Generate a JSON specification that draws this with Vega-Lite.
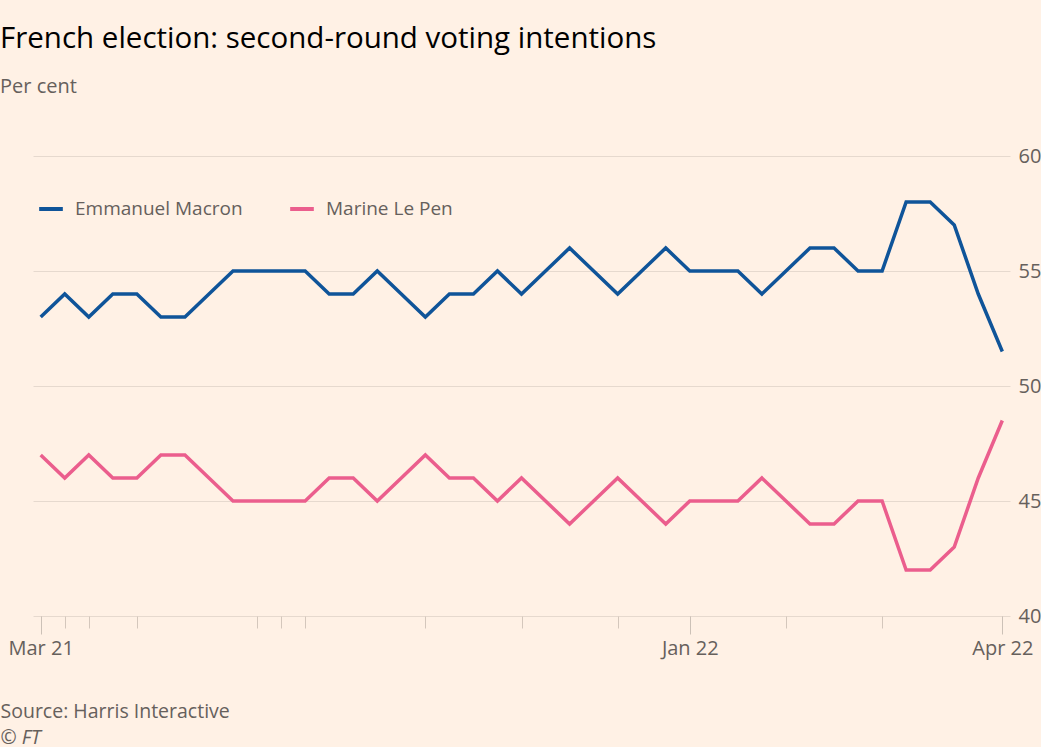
{
  "$schema": "https://vega.github.io/schema/vega-lite/v6.json",
  "background": "#fff1e5",
  "padding": {"left": 0, "top": 23, "right": 0, "bottom": 0},
  "width": 977,
  "height": 460,
  "title": {
    "text": "French election: second-round voting intentions",
    "subtitle": "Per cent",
    "anchor": "start",
    "frame": "bounds",
    "font": "Open Sans",
    "fontSize": 29.5,
    "fontWeight": "normal",
    "color": "#000000",
    "subtitleFont": "Open Sans",
    "subtitleFontSize": 20,
    "subtitleColor": "#66605c",
    "subtitlePadding": 23,
    "offset": 48
  },
  "data": {
    "values": [
      {"date": "2021-03-29", "candidate": "Emmanuel Macron", "value": 53},
      {"date": "2021-04-26", "candidate": "Emmanuel Macron", "value": 54},
      {"date": "2021-05-10", "candidate": "Emmanuel Macron", "value": 53},
      {"date": "2021-05-24", "candidate": "Emmanuel Macron", "value": 54},
      {"date": "2021-06-07", "candidate": "Emmanuel Macron", "value": 54},
      {"date": "2021-06-11", "candidate": "Emmanuel Macron", "value": 53},
      {"date": "2021-06-16", "candidate": "Emmanuel Macron", "value": 53},
      {"date": "2021-06-21", "candidate": "Emmanuel Macron", "value": 54},
      {"date": "2021-06-28", "candidate": "Emmanuel Macron", "value": 55},
      {"date": "2021-07-12", "candidate": "Emmanuel Macron", "value": 55},
      {"date": "2021-08-30", "candidate": "Emmanuel Macron", "value": 55},
      {"date": "2021-09-06", "candidate": "Emmanuel Macron", "value": 55},
      {"date": "2021-09-13", "candidate": "Emmanuel Macron", "value": 54},
      {"date": "2021-09-20", "candidate": "Emmanuel Macron", "value": 54},
      {"date": "2021-09-24", "candidate": "Emmanuel Macron", "value": 55},
      {"date": "2021-09-28", "candidate": "Emmanuel Macron", "value": 54},
      {"date": "2021-10-04", "candidate": "Emmanuel Macron", "value": 53},
      {"date": "2021-10-11", "candidate": "Emmanuel Macron", "value": 54},
      {"date": "2021-10-18", "candidate": "Emmanuel Macron", "value": 54},
      {"date": "2021-10-25", "candidate": "Emmanuel Macron", "value": 55},
      {"date": "2021-11-01", "candidate": "Emmanuel Macron", "value": 54},
      {"date": "2021-11-08", "candidate": "Emmanuel Macron", "value": 55},
      {"date": "2021-11-15", "candidate": "Emmanuel Macron", "value": 56},
      {"date": "2021-11-22", "candidate": "Emmanuel Macron", "value": 55},
      {"date": "2021-12-06", "candidate": "Emmanuel Macron", "value": 54},
      {"date": "2021-12-13", "candidate": "Emmanuel Macron", "value": 55},
      {"date": "2021-12-20", "candidate": "Emmanuel Macron", "value": 56},
      {"date": "2022-01-10", "candidate": "Emmanuel Macron", "value": 55},
      {"date": "2022-01-17", "candidate": "Emmanuel Macron", "value": 55},
      {"date": "2022-01-24", "candidate": "Emmanuel Macron", "value": 55},
      {"date": "2022-01-31", "candidate": "Emmanuel Macron", "value": 54},
      {"date": "2022-02-07", "candidate": "Emmanuel Macron", "value": 55},
      {"date": "2022-02-14", "candidate": "Emmanuel Macron", "value": 56},
      {"date": "2022-02-21", "candidate": "Emmanuel Macron", "value": 56},
      {"date": "2022-02-28", "candidate": "Emmanuel Macron", "value": 55},
      {"date": "2022-03-07", "candidate": "Emmanuel Macron", "value": 55},
      {"date": "2022-03-14", "candidate": "Emmanuel Macron", "value": 58},
      {"date": "2022-03-21", "candidate": "Emmanuel Macron", "value": 58},
      {"date": "2022-03-28", "candidate": "Emmanuel Macron", "value": 57},
      {"date": "2022-03-31", "candidate": "Emmanuel Macron", "value": 54},
      {"date": "2022-04-05", "candidate": "Emmanuel Macron", "value": 51.5},
      {"date": "2021-03-29", "candidate": "Marine Le Pen", "value": 47},
      {"date": "2021-04-26", "candidate": "Marine Le Pen", "value": 46},
      {"date": "2021-05-10", "candidate": "Marine Le Pen", "value": 47},
      {"date": "2021-05-24", "candidate": "Marine Le Pen", "value": 46},
      {"date": "2021-06-07", "candidate": "Marine Le Pen", "value": 46},
      {"date": "2021-06-11", "candidate": "Marine Le Pen", "value": 47},
      {"date": "2021-06-16", "candidate": "Marine Le Pen", "value": 47},
      {"date": "2021-06-21", "candidate": "Marine Le Pen", "value": 46},
      {"date": "2021-06-28", "candidate": "Marine Le Pen", "value": 45},
      {"date": "2021-07-12", "candidate": "Marine Le Pen", "value": 45},
      {"date": "2021-08-30", "candidate": "Marine Le Pen", "value": 45},
      {"date": "2021-09-06", "candidate": "Marine Le Pen", "value": 45},
      {"date": "2021-09-13", "candidate": "Marine Le Pen", "value": 46},
      {"date": "2021-09-20", "candidate": "Marine Le Pen", "value": 46},
      {"date": "2021-09-24", "candidate": "Marine Le Pen", "value": 45},
      {"date": "2021-09-28", "candidate": "Marine Le Pen", "value": 46},
      {"date": "2021-10-04", "candidate": "Marine Le Pen", "value": 47},
      {"date": "2021-10-11", "candidate": "Marine Le Pen", "value": 46},
      {"date": "2021-10-18", "candidate": "Marine Le Pen", "value": 46},
      {"date": "2021-10-25", "candidate": "Marine Le Pen", "value": 45},
      {"date": "2021-11-01", "candidate": "Marine Le Pen", "value": 46},
      {"date": "2021-11-08", "candidate": "Marine Le Pen", "value": 45},
      {"date": "2021-11-15", "candidate": "Marine Le Pen", "value": 44},
      {"date": "2021-11-22", "candidate": "Marine Le Pen", "value": 45},
      {"date": "2021-12-06", "candidate": "Marine Le Pen", "value": 46},
      {"date": "2021-12-13", "candidate": "Marine Le Pen", "value": 45},
      {"date": "2021-12-20", "candidate": "Marine Le Pen", "value": 44},
      {"date": "2022-01-10", "candidate": "Marine Le Pen", "value": 45},
      {"date": "2022-01-17", "candidate": "Marine Le Pen", "value": 45},
      {"date": "2022-01-24", "candidate": "Marine Le Pen", "value": 45},
      {"date": "2022-01-31", "candidate": "Marine Le Pen", "value": 46},
      {"date": "2022-02-07", "candidate": "Marine Le Pen", "value": 45},
      {"date": "2022-02-14", "candidate": "Marine Le Pen", "value": 44},
      {"date": "2022-02-21", "candidate": "Marine Le Pen", "value": 44},
      {"date": "2022-02-28", "candidate": "Marine Le Pen", "value": 45},
      {"date": "2022-03-07", "candidate": "Marine Le Pen", "value": 45},
      {"date": "2022-03-14", "candidate": "Marine Le Pen", "value": 42},
      {"date": "2022-03-21", "candidate": "Marine Le Pen", "value": 42},
      {"date": "2022-03-28", "candidate": "Marine Le Pen", "value": 43},
      {"date": "2022-03-31", "candidate": "Marine Le Pen", "value": 46},
      {"date": "2022-04-05", "candidate": "Marine Le Pen", "value": 48.5}
    ]
  },
  "encoding": {
    "x": {
      "field": "date",
      "type": "ordinal",
      "scale": {"type": "point", "padding": 0.32}
    },
    "y": {
      "field": "value",
      "type": "quantitative",
      "scale": {"domain": [40, 60], "nice": false, "zero": false}
    },
    "color": {
      "field": "candidate",
      "type": "nominal",
      "scale": {"domain": ["Emmanuel Macron", "Marine Le Pen"], "range": ["#0f5499", "#eb5e8d"]},
      "legend": {
        "title": null,
        "orient": "none",
        "legendX": 4,
        "legendY": 39,
        "direction": "horizontal",
        "symbolType": "stroke",
        "symbolSize": 560,
        "symbolStrokeWidth": 4,
        "labelFont": "Open Sans",
        "labelFontSize": 19,
        "labelColor": "#66605c",
        "labelOffset": 10,
        "labelLimit": 400,
        "columnPadding": 39
      }
    }
  },
  "layer": [
    {
      "transform": [{"filter": "datum.candidate === 'Emmanuel Macron'"}],
      "mark": {"type": "line", "strokeWidth": 3.5, "strokeJoin": "miter"},
      "encoding": {
        "x": {
          "field": "date",
          "type": "ordinal",
          "scale": {"type": "point", "padding": 0.32},
          "axis": {
            "orient": "bottom",
            "values": ["2021-03-29","2021-04-26","2021-05-10","2021-06-07","2021-07-12","2021-08-30","2021-09-06","2021-10-04","2021-11-01","2021-12-06","2022-01-10","2022-02-07","2022-03-07","2022-04-05"],
            "labels": false,
            "domain": false,
            "grid": false,
            "ticks": true,
            "tickSize": 12,
            "tickColor": "#d4c7bc",
            "title": "Source: Harris Interactive",
            "titleFont": "Open Sans",
            "titleFontSize": 19.5,
            "titleFontWeight": "normal",
            "titleColor": "#66605c",
            "titleAlign": "left",
            "titleBaseline": "alphabetic",
            "titleAnchor": "start",
            "titleX": -33,
            "titleY": 101
          }
        },
        "y": {
          "field": "value",
          "type": "quantitative",
          "scale": {"domain": [40, 60], "nice": false, "zero": false},
          "axis": {
            "orient": "right",
            "values": [40, 45, 50, 55, 60],
            "title": null,
            "domain": false,
            "ticks": false,
            "grid": true,
            "gridColor": "#e6d9ce",
            "gridWidth": 1,
            "labelFont": "Open Sans",
            "labelFontSize": 20,
            "labelColor": "#66605c",
            "labelPadding": 8,
            "labelAlign": "left",
            "labelBaseline": "middle"
          }
        }
      }
    },
    {
      "transform": [{"filter": "datum.candidate === 'Marine Le Pen'"}],
      "mark": {"type": "line", "strokeWidth": 3.5, "strokeJoin": "miter"},
      "encoding": {
        "x": {
          "field": "date",
          "type": "ordinal",
          "scale": {"type": "point", "padding": 0.32},
          "axis": {
            "orient": "bottom",
            "values": ["2021-03-29", "2022-01-10", "2022-04-05"],
            "labelExpr": "datum.value == '2021-03-29' ? 'Mar 21' : (datum.value == '2022-01-10' ? 'Jan 22' : 'Apr 22')",
            "domain": false,
            "grid": false,
            "ticks": true,
            "tickSize": 18,
            "tickColor": "#ccc1b7",
            "labelFont": "Open Sans",
            "labelFontSize": 20,
            "labelColor": "#66605c",
            "labelPadding": 4,
            "labelAngle": 0,
            "title": "© FT",
            "titleFont": "Open Sans",
            "titleFontSize": 19.5,
            "titleFontWeight": "normal",
            "titleFontStyle": "italic",
            "titleColor": "#66605c",
            "titleAlign": "left",
            "titleBaseline": "alphabetic",
            "titleAnchor": "start",
            "titleX": -33,
            "titleY": 127
          }
        },
        "y": {
          "field": "value",
          "type": "quantitative",
          "scale": {"domain": [40, 60], "nice": false, "zero": false},
          "axis": null
        }
      }
    }
  ],
  "resolve": {"axis": {"x": "independent", "y": "independent"}},
  "config": {
    "view": {"stroke": null},
    "font": "Open Sans"
  }
}
